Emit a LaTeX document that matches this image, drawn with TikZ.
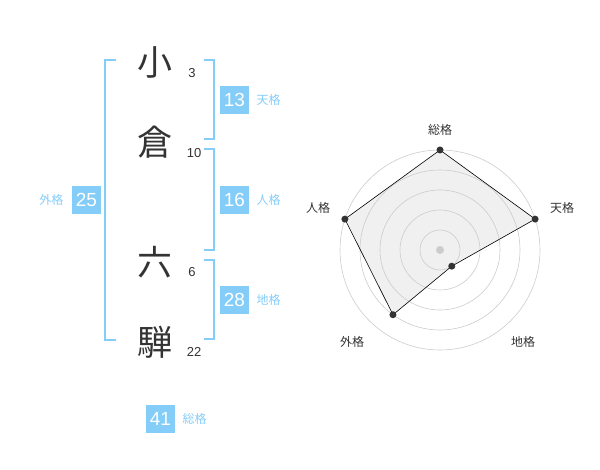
\documentclass[tikz,border=0pt]{standalone}
\usepackage{fontspec}
\setmainfont{Liberation Sans}
\newfontfamily\jpfont{Noto Sans CJK JP}
\usetikzlibrary{positioning}
\definecolor{kakublue}{HTML}{85CDF9}
\definecolor{ringgray}{HTML}{CCCCCC}
\definecolor{inkgray}{HTML}{333333}

\begin{document}
\begin{tikzpicture}[x=1pt,y=-1pt,
    kanji/.style={font=\jpfont\fontsize{35}{35}\selectfont, text=inkgray},
    strokes/.style={font=\fontsize{13}{13}\selectfont, text=inkgray},
    kakubox/.style={fill=kakublue, text=white, minimum width=29pt, minimum height=28pt, inner sep=0pt, font=\fontsize{19}{19}\selectfont},
    kakulabel/.style={font=\jpfont\fontsize{12}{12}\selectfont, text=kakublue},
    bracket/.style={draw=kakublue, line width=2pt},
    ring/.style={draw=ringgray, line width=0.6pt},
    axislabel/.style={font=\jpfont\fontsize{12}{12}\selectfont, text=inkgray},
    dot/.style={circle, inner sep=0pt, minimum size=7pt}]
    \useasboundingbox (0,0) rectangle (600,470);

    % The name, one character per line
    \node[kanji] (k1) at (155, 62) {小};
    \node[kanji] (k2) at (155, 142) {倉};
    \node[kanji] (k3) at (155, 262) {六};
    \node[kanji] (k4) at (155, 342) {騨};

    % Stroke counts
    \node[strokes] (s1) at (192, 73) {3};
    \node[strokes] (s2) at (194, 153) {10};
    \node[strokes] (s3) at (192, 272) {6};
    \node[strokes] (s4) at (194, 352) {22};

    % Brackets
    \draw[bracket] (116, 60) -- (105, 60) -- (105, 340) -- (116, 340);
    \draw[bracket] (204, 60) -- (214, 60) -- (214, 139) -- (204, 139);
    \draw[bracket] (204, 149) -- (214, 149) -- (214, 250) -- (204, 250);
    \draw[bracket] (204, 260) -- (214, 260) -- (214, 339) -- (204, 339);

    % Values of each kaku
    \node[kakubox] (ten) at (234.5, 100) {13};
    \node[kakulabel, right=4pt of ten] (tenlbl) {天格};
    \node[kakubox] (jin) at (234.5, 200) {16};
    \node[kakulabel, right=4pt of jin] (jinlbl) {人格};
    \node[kakubox] (chi) at (234.5, 300) {28};
    \node[kakulabel, right=4pt of chi] (chilbl) {地格};
    \node[kakubox] (gai) at (86.5, 200) {25};
    \node[kakulabel, left=5pt of gai] (gailbl) {外格};
    \node[kakubox] (sou) at (160.5, 419) {41};
    \node[kakulabel, right=4pt of sou] (soulbl) {総格};

    % Radar chart
    \coordinate (c) at (440, 250);
    \node[dot] (p1) at ([shift={(-90:100)}]c) {};
    \node[dot] (p2) at ([shift={(-18:100)}]c) {};
    \node[dot] (p3) at ([shift={(54:20)}]c) {};
    \node[dot] (p4) at ([shift={(126:80)}]c) {};
    \node[dot] (p5) at ([shift={(198:100)}]c) {};
    \fill[black!6] (p1.center) -- (p2.center) -- (p3.center) -- (p4.center) -- (p5.center) -- cycle;
    \foreach \r in {20, 40, 60, 80, 100}
        \draw[ring] (c) circle (\r);
    \fill[ringgray] (c) circle (4);
    \draw[black, line width=0.6pt] (p1.center) -- (p2.center) -- (p3.center) -- (p4.center) -- (p5.center) -- cycle;
    \foreach \p in {p1, p2, p3, p4, p5}
        \fill[inkgray] (\p) circle (3.5);

    % Axis labels
    \node[axislabel] (a1) at (440, 130) {総格};
    \node[axislabel] (a2) at (562, 208) {天格};
    \node[axislabel] (a3) at (523, 342) {地格};
    \node[axislabel] (a4) at (352, 342) {外格};
    \node[axislabel] (a5) at (318, 208) {人格};
\end{tikzpicture}
\end{document}
